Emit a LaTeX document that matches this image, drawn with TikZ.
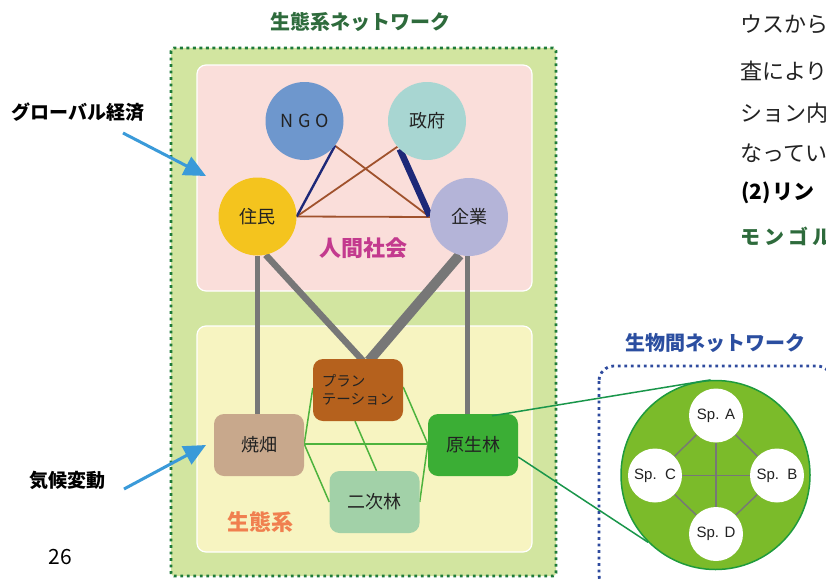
\documentclass[tikz,border=0pt]{standalone}
\usepackage{fontspec}
\setmainfont{Noto Sans CJK JP}
\newfontfamily\lsans{Liberation Sans}
\usetikzlibrary{arrows.meta}
\pgfdeclarelayer{bg}
\pgfdeclarelayer{edges}
\pgfsetlayers{bg,edges,main}
\definecolor{cOuter}{HTML}{D2E5A0}
\definecolor{cDotGreen}{HTML}{1E7B3A}
\definecolor{cPink}{HTML}{FADEDA}
\definecolor{cYellow}{HTML}{F7F4C1}
\definecolor{cNGO}{HTML}{6E97CD}
\definecolor{cSeifu}{HTML}{A8D6D2}
\definecolor{cJumin}{HTML}{F4C41E}
\definecolor{cKigyo}{HTML}{B4B4D8}
\definecolor{cNavy}{HTML}{1D2878}
\definecolor{cBrown}{HTML}{A0522D}
\definecolor{cGray}{HTML}{777777}
\definecolor{cPlant}{HTML}{B5611D}
\definecolor{cYaki}{HTML}{C8A88C}
\definecolor{cGen}{HTML}{3BAE35}
\definecolor{cNiji}{HTML}{A2D1A8}
\definecolor{cGreenLine}{HTML}{4DB33D}
\definecolor{cBig}{HTML}{7BBB2A}
\definecolor{cBigBorder}{HTML}{1E9B3C}
\definecolor{cZoomLine}{HTML}{19964A}
\definecolor{cBlueDots}{HTML}{2E4A9E}
\definecolor{cArrow}{HTML}{3A9AD9}
\definecolor{cMagenta}{HTML}{C33A8E}
\definecolor{cOrange}{HTML}{F07F4F}
\definecolor{cTitleGreen}{HTML}{2E6B3C}
\definecolor{cTitleBlue}{HTML}{2B4EA0}
\definecolor{cText}{HTML}{222222}
\tikzset{
  person/.style={circle, minimum size=78pt, inner sep=0pt, text=cText, font=\fontsize{18}{20}\selectfont},
  eco/.style={rectangle, rounded corners=10pt, minimum width=90pt, minimum height=62pt, inner sep=0pt, text=cText, font=\fontsize{18}{20}\selectfont},
  sp/.style={circle, fill=white, minimum size=54pt, inner sep=0pt, text=cText, font=\lsans\fontsize{15}{17}\selectfont},
  brownedge/.style={draw=cBrown, line width=1.8pt},
  grayedge/.style={draw=cGray},
  greenedge/.style={draw=cGreenLine, line width=1.5pt},
  spedge/.style={draw=cGray, line width=1.4pt},
  zoomedge/.style={draw=cZoomLine, line width=1.5pt},
  bluearrow/.style={draw=cArrow, line width=3pt, -{Triangle[length=22pt,width=20pt]}},
  boldlabel/.style={font=\bfseries\fontsize{19}{21}\selectfont, text=black, inner sep=0pt},
  pagetext/.style={anchor=west, inner sep=0pt, text=cText, font=\fontsize{22}{24}\selectfont},
  dotbox/.style={line width=2.8pt, dash pattern=on 2.8pt off 3.7pt}
}
\begin{document}
\begin{tikzpicture}[x=1pt,y=-1pt]
\useasboundingbox (0,0) rectangle (826,578);
\clip (0,0) rectangle (826,578);

% ---------- boxes ----------
\begin{pgfonlayer}{bg}
  \fill[white] (0,0) rectangle (826,578);
  \draw[dotbox, draw=cDotGreen, fill=cOuter, rounded corners=3pt] (171,48) rectangle (556,576);
  \draw[draw=white, line width=1.2pt, fill=cPink, rounded corners=9pt] (197,65) rectangle (532,291);
  \draw[draw=white, line width=1.2pt, fill=cYellow, rounded corners=9pt] (197,326) rectangle (532,552);
  \draw[dotbox, draw=cBlueDots, rounded corners=15pt] (599,366) rectangle (832,590);
  \node[circle, minimum size=189pt, inner sep=0pt, fill=cBig, draw=cBigBorder, line width=1.5pt] (big) at (715.5,475) {};
\end{pgfonlayer}

% ---------- titles and labels ----------
\node[font=\bfseries\fontsize{20}{22}\selectfont, text=cTitleGreen, inner sep=0pt] (title1) at (360,22) {生態系ネットワーク};
\node[font=\bfseries\fontsize{20}{22}\selectfont, text=cTitleBlue, inner sep=0pt] (title2) at (715,343) {生物間ネットワーク};
\node[boldlabel] (global) at (78,112) {グローバル経済};
\node[boldlabel] (climate) at (67,480) {気候変動};
\node[font=\fontsize{21}{23}\selectfont, text=black, inner sep=0pt] (page) at (60,557) {26};
\node[font=\bfseries\fontsize{22}{24}\selectfont, text=cMagenta, inner sep=0pt] (human) at (363.5,248) {人間社会};
\node[font=\bfseries\fontsize{22}{24}\selectfont, text=cOrange, inner sep=0pt] (ecosys) at (260,522) {生態系};

% ---------- right page text ----------
\node[pagetext] (t1) at (740,24) {ウスから};
\node[pagetext] (t2) at (740,71) {査により};
\node[pagetext] (t3) at (740,113) {ション内};
\node[pagetext] (t4) at (740,153) {なってい};
\node[pagetext, font=\bfseries\fontsize{21}{23}\selectfont, text=black] (t5) at (741,193) {(2)\hspace{2pt}リン};
\node[pagetext, font=\bfseries\fontsize{20}{22}\selectfont, text=cTitleGreen] (t6) at (740,236) {モ\hspace{4pt}ン\hspace{4pt}ゴ\hspace{4pt}ル};

% ---------- human society nodes ----------
\node[person, fill=cNGO] (ngo) at (304.5,121) {N\hspace{5pt}G\hspace{5pt}O};
\node[person, fill=cSeifu] (seifu) at (427,121) {政府};
\node[person, fill=cJumin] (jumin) at (257.5,216.5) {住民};
\node[person, fill=cKigyo] (kigyo) at (469,217) {企業};

% ---------- ecosystem nodes ----------
\node[eco, fill=cPlant, font=\fontsize{14.5}{18}\selectfont, align=left] (plant) at (358,390) {プラン\\テーション};
\node[eco, fill=cYaki] (yaki) at (259,445) {焼畑};
\node[eco, fill=cGen] (gen) at (473,445) {原生林};
\node[eco, fill=cNiji] (niji) at (374.5,502) {二次林};

% ---------- species nodes ----------
\node[sp] (spa) at (716,415.5) {Sp. A};
\node[sp] (spc) at (655,475.5) {Sp.\ \ C};
\node[sp] (spb) at (777,475.5) {Sp.\ \ B};
\node[sp] (spd) at (716,534) {Sp. D};

% ---------- edges ----------
\begin{pgfonlayer}{edges}
  \draw[brownedge] (ngo.-39) -- (kigyo.west);
  \draw[brownedge] (seifu.-139) -- (jumin.east);
  \draw[brownedge] (jumin.east) -- (kigyo.west);
  \draw[draw=cNavy, line width=2.4pt] (ngo.-39) -- (jumin.east);
  \draw[draw=cNavy, line width=6.5pt] (seifu.-134) -- ([yshift=1pt]kigyo.west);

  \draw[grayedge, line width=5.5pt] (jumin.south) -- (jumin.south |- yaki.north);
  \draw[grayedge, line width=6.5pt] (jumin.-78) -- ([xshift=5pt,yshift=-2pt]plant.north);
  \draw[grayedge, line width=10pt] (kigyo.-104) -- ([xshift=11pt,yshift=-2pt]plant.north);
  \draw[grayedge, line width=5pt] ([xshift=-2pt]kigyo.south) -- ([xshift=-2pt]kigyo.south |- gen.north);

  \draw[greenedge] ([yshift=1pt]yaki.east) -- ([yshift=1pt]gen.west);
  \draw[greenedge] ([yshift=1pt]yaki.east) -- ([yshift=2pt]plant.west);
  \draw[greenedge] ([yshift=1pt]yaki.east) -- (niji.west);
  \draw[greenedge] ([yshift=3pt]plant.east) -- ([yshift=1pt]gen.west);
  \draw[greenedge] ([xshift=-3pt]plant.south) -- ([xshift=2pt]niji.north);
  \draw[greenedge] (niji.east) -- ([yshift=1pt]gen.west);

  \draw[spedge] (spa) -- (spc);
  \draw[spedge] (spa) -- (spb);
  \draw[spedge] (spc) -- (spd);
  \draw[spedge] (spb) -- (spd);
  \draw[spedge] (spa) -- (spd);
  \draw[spedge] (spc) -- (spb);
\end{pgfonlayer}

% ---------- zoom connectors ----------
\draw[zoomedge] ([xshift=19pt,yshift=-2pt]gen.north) -- (big.93);
\draw[zoomedge] ([yshift=-12pt]gen.east) -- (big.225);

% ---------- external arrows ----------
\coordinate (a1s) at (123,133);
\coordinate (a1e) at (206,176);
\coordinate (a2s) at (124,489);
\coordinate (a2e) at (206,445);
\draw[bluearrow] (a1s) -- (a1e);
\draw[bluearrow] (a2s) -- (a2e);
\end{tikzpicture}
\end{document}
